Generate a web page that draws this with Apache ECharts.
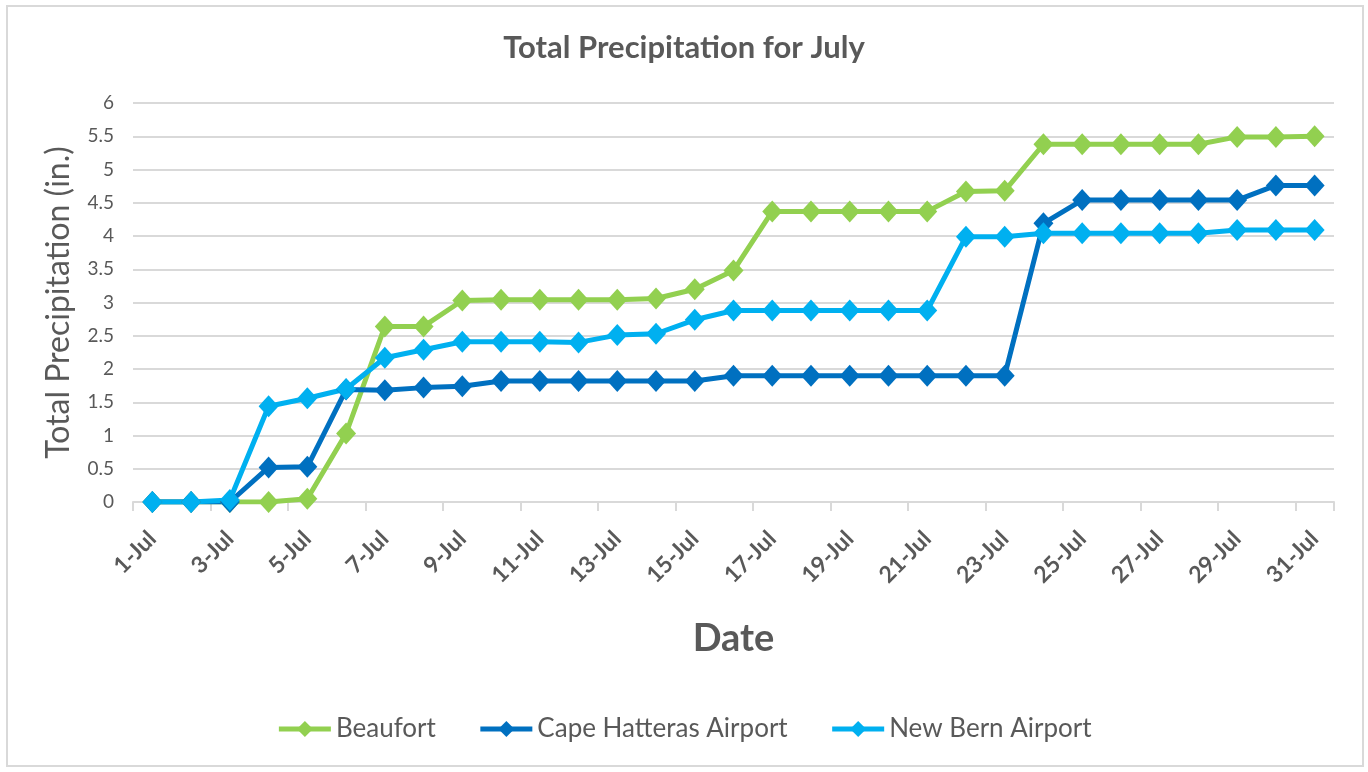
<!DOCTYPE html>
<html>
<head>
<meta charset="utf-8">
<script src="https://cdn.jsdelivr.net/npm/echarts@6/dist/echarts.min.js"></script>
<style>
  html, body { margin: 0; padding: 0; background: #fff; }
  #frame { position: absolute; left: 6px; top: 5px; width: 1358px; height: 762px; border: 2px solid #d9d9d9; box-sizing: border-box; }
  #chart { position: absolute; left: 0; top: 0; width: 1368px; height: 772px; }
</style>
</head>
<body>
<div id="frame"></div>
<div id="chart"></div>
<script>
// days of July
const days = []
for (let d = 1; d <= 31; d++) days.push(d + '-Jul')

// cumulative precipitation, inches
const beaufort = [0, 0, 0, 0, 0.05, 1.03, 2.64, 2.64, 3.03, 3.04, 3.04, 3.04, 3.04, 3.06, 3.2, 3.48,
  4.37, 4.37, 4.37, 4.37, 4.37, 4.67, 4.68, 5.38, 5.38, 5.38, 5.38, 5.38, 5.49, 5.49, 5.5]
const capeHatteras = [0, 0, 0, 0.52, 0.53, 1.69, 1.68, 1.72, 1.74, 1.82, 1.82, 1.82, 1.82, 1.82, 1.82, 1.9,
  1.9, 1.9, 1.9, 1.9, 1.9, 1.9, 1.9, 4.19, 4.54, 4.54, 4.54, 4.54, 4.54, 4.76, 4.76]
const newBern = [0, 0, 0.03, 1.44, 1.56, 1.7, 2.17, 2.29, 2.41, 2.41, 2.41, 2.4, 2.51, 2.53, 2.74, 2.88,
  2.88, 2.88, 2.88, 2.88, 2.88, 3.99, 3.99, 4.04, 4.04, 4.04, 4.04, 4.04, 4.09, 4.09, 4.09]

const seriesNames = ['Beaufort', 'Cape Hatteras Airport', 'New Bern Airport']
const seriesColors = ['#92D050', '#0070C0', '#00B0F0']

const font = 'Lato, "Open Sans", sans-serif'
const grey = '#595959'

const mkSeries = (name, data, color) => ({
  name: name,
  type: 'line',
  data: data,
  symbol: 'diamond',
  symbolSize: [20, 22],
  showSymbol: true,
  itemStyle: { color: color },
  lineStyle: { color: color, width: 5 },
  emphasis: { disabled: true }
})

let option = {
  animation: false,
  title: {
    text: 'Total Precipitation for July',
    left: 'center',
    top: 27,
    textStyle: { fontFamily: font, fontSize: 31, fontWeight: 'bold', color: grey }
  },
  legend: {
    data: seriesNames,
    bottom: 25,
    left: 'center',
    itemWidth: 52,
    itemHeight: 20,
    itemGap: 42,
    lineStyle: { width: 5 },
    textStyle: { fontFamily: font, fontSize: 26, color: grey }
  },
  grid: { left: 133, right: 34, top: 103, bottom: 270 },
  xAxis: {
    type: 'category',
    data: days,
    boundaryGap: true,
    name: 'Date',
    nameLocation: 'middle',
    nameGap: 118,
    nameTextStyle: { fontFamily: font, fontSize: 38, fontWeight: 'bold', color: grey },
    axisLine: { lineStyle: { color: '#d9d9d9', width: 2 } },
    axisTick: { show: true, interval: 1, length: 9, lineStyle: { color: '#d9d9d9', width: 2 } },
    axisLabel: {
      interval: 1,
      rotate: 45,
      margin: 33,
      fontFamily: font,
      fontSize: 23,
      fontWeight: 'bold',
      color: grey
    }
  },
  yAxis: {
    type: 'value',
    min: 0,
    max: 6,
    interval: 0.5,
    name: 'Total Precipitation (in.)',
    nameLocation: 'middle',
    nameGap: 58,
    nameTextStyle: { fontFamily: font, fontSize: 32, color: grey },
    axisLine: { show: false },
    axisTick: { show: false },
    axisLabel: { fontFamily: font, fontSize: 19, color: grey, margin: 19 },
    splitLine: { lineStyle: { color: '#d9d9d9', width: 2 } }
  },
  series: [
    mkSeries(seriesNames[0], beaufort, seriesColors[0]),
    mkSeries(seriesNames[1], capeHatteras, seriesColors[1]),
    mkSeries(seriesNames[2], newBern, seriesColors[2])
  ]
}

const myChart = echarts.init(document.getElementById('chart'))
myChart.setOption(option)
</script>
</body>
</html>
